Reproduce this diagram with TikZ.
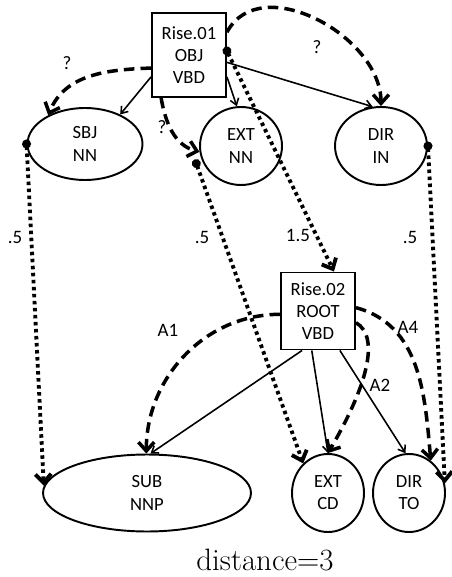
\documentclass[tikz,border=0pt]{standalone}
\usepackage{fontspec}
\usetikzlibrary{arrows.meta, shapes.geometric}
\newfontfamily\calibfont{Carlito}

\begin{document}
\begin{tikzpicture}[x=0.02cm, y=-0.02cm,
  pred/.style={draw, line width=1.1pt, rectangle, align=center, inner sep=0pt,
    minimum width=1.48cm, font=\calibfont\fontsize{10.6}{12.6}\selectfont},
  arg/.style={draw, line width=1.1pt, ellipse, align=center, inner sep=0pt,
    font=\calibfont\fontsize{10.6}{12.6}\selectfont},
  lbl/.style={font=\calibfont\fontsize{10.8}{13}\selectfont},
  dep/.style={line width=0.9pt, -{Straight Barb[length=3.5pt,width=5pt]}},
  guess/.style={line width=2pt, dash pattern=on 6pt off 3.5pt,
    -{Straight Barb[length=5pt,width=9pt]}},
  move/.style={line width=2.2pt, dash pattern=on 2pt off 2pt, shorten <=-2.5pt,
    {Circle[length=5pt]}-{Straight Barb[length=5pt,width=9pt]}},
]

\useasboundingbox (0,0) rectangle (451,577);

% --- First frame ---
\node[pred, minimum height=1.68cm] (rise1) at (189,55) {Rise.01\\OBJ\\VBD};
\node[arg, minimum width=2.3cm, minimum height=1.44cm] (sbj) at (85,144) {SBJ\\NN};
\node[arg, minimum width=1.64cm, minimum height=1.56cm] (extnn) at (241,146) {EXT\\NN};
\node[arg, minimum width=1.84cm, minimum height=1.56cm] (dirin) at (381,146) {DIR\\IN};

% --- Second frame ---
\node[pred, minimum height=1.54cm] (rise2) at (318,311) {Rise.02\\ROOT\\VBD};
\node[arg, minimum width=4.16cm, minimum height=1.54cm] (sub) at (147,493) {SUB\\NNP};
\node[arg, minimum width=1.44cm, minimum height=1.56cm] (extcd) at (328,493) {EXT\\CD};
\node[arg, minimum width=1.44cm, minimum height=1.56cm] (dirto) at (409,493) {DIR\\TO};

% Dependencies of the first frame
\draw[dep] (rise1.210) -- (sbj.40);
\draw[dep] (rise1.330) -- (extnn.96);
\draw[dep] (rise1.349) -- (dirin.102);

% Unknown alignments
\draw[guess] (rise1.199) to[out=182,in=68] (sbj.142);
\draw[guess] (rise1.237) to[out=-80,in=165] (extnn.188);
\draw[guess] (rise1.31) to[out=62,in=90, looseness=1.05] (dirin.north);
\node[lbl] (q1) at (67,63) {?};
\node[lbl] (q2) at (162,127) {?};
\node[lbl] (q3) at (317,47) {?};

% Moves between the frames
\draw[move] (sbj.west) -- (sub.176);
\draw[move] ([xshift=-0.14cm]extnn.205) -- (extcd.130);
\draw[move] (rise1.6) -- (rise2.68);
\draw[move] (dirin.east) -- (dirto.15);
\node[lbl] (c1) at (15,237) {.5};
\node[lbl] (c2) at (202,237) {.5};
\node[lbl] (c3) at (298,235) {1.5};
\node[lbl] (c4) at (410,237) {.5};

% Dependencies of the second frame
\draw[dep] (rise2.248) -- (sub.85);
\draw[dep] (rise2.261) -- (extcd.north);
\draw[dep] (rise2.299) -- (dirto.95);

% Argument arcs
\draw[guess] (rise2.185) to[out=180,in=90] (sub.91);
\draw[guess] (rise2.343) .. controls +(25,15) and +(38,-65) .. (extcd.north);
\draw[guess] (rise2.5) to[out=-15,in=95] (dirto.56);
\node[lbl] (a1) at (168,330) {A1};
\node[lbl] (a2) at (380,385) {A2};
\node[lbl] (a4) at (408,327) {A4};

% Caption
\node[font=\fontsize{17.6}{20}\selectfont] (caption) at (265,560) {distance=3};

\end{tikzpicture}
\end{document}
